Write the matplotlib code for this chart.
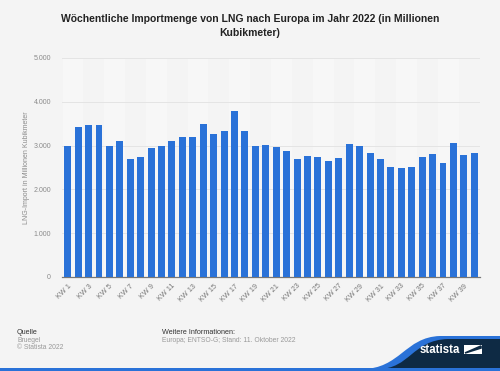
import matplotlib.pyplot as plt
import matplotlib.patches as patches
from matplotlib.path import Path

plt.rcParams['font.family'] = ['Liberation Sans', 'DejaVu Sans']

weeks = [f"KW {i}" for i in range(1, 41)]
values = [2980, 3430, 3460, 3475, 2990, 3110, 2690, 2750, 2935, 3000,
          3100, 3200, 3200, 3500, 3260, 3340, 3795, 3330, 2985, 3015,
          2970, 2885, 2690, 2765, 2735, 2655, 2720, 3045, 2985, 2840,
          2700, 2520, 2490, 2505, 2750, 2810, 2595, 3060, 2795, 2825]
yticks = [0, 1000, 2000, 3000, 4000, 5000]
ytick_labels = ["0", "1.000", "2.000", "3.000", "4.000", "5.000"]

bg = '#f4f4f4'
bar_color = '#2a72d8'
grey_text = '#8a8a8a'
navy = '#0e2a44'

fig = plt.figure(figsize=(5, 3.71), dpi=100, facecolor=bg)
ax = fig.add_axes([0.124, 0.2534, 0.836, 0.5903])
ax.set_facecolor(bg)

x = list(range(len(values)))

# alternating light bands, two bars wide
for start in range(0, len(values), 4):
    ax.axvspan(start - 0.5, start + 1.5, color='#f7f7f7', zorder=0, lw=0)

ax.bar(x, values, width=0.67, color=bar_color, zorder=3)

ax.set_xlim(-0.55, len(values) - 0.45)
ax.set_ylim(0, 5000)
ax.set_yticks(yticks)
ax.set_yticklabels(ytick_labels)
ax.yaxis.grid(True, color='#e4e4e4', lw=0.7, zorder=1)
ax.set_axisbelow(True)

ax.set_xticks(x[::2])
ax.set_xticklabels(weeks[::2], rotation=45, ha='right', va='top',
                   rotation_mode='anchor')
ax.tick_params(axis='x', length=0, pad=4, labelsize=5.2, labelcolor='#777777')
ax.tick_params(axis='y', length=0, pad=8, labelsize=5.0, labelcolor=grey_text)

for s in ['top', 'right', 'left']:
    ax.spines[s].set_visible(False)
ax.spines['bottom'].set_color('#777777')
ax.spines['bottom'].set_linewidth(0.9)

ax.set_ylabel("LNG-Import in Millionen Kubikmeter", fontsize=5.0,
              color=grey_text, labelpad=2)

fig.text(0.5, 0.962, "Wöchentliche Importmenge von LNG nach Europa im Jahr 2022 (in Millionen\nKubikmeter)",
         ha='center', va='top', fontsize=7.5, fontweight='bold', color='#222222',
         linespacing=1.5)

# footer
fig.text(0.034, 0.105, "Quelle", fontsize=5.2, color='#333333', va='center')
fig.text(0.034, 0.083, "Bruegel", fontsize=4.9, color='#999999', va='center')
fig.text(0.034, 0.063, "© Statista 2022", fontsize=4.9, color='#999999', va='center')
fig.text(0.324, 0.105, "Weitere Informationen:", fontsize=5.2, color='#333333', va='center')
fig.text(0.324, 0.083, "Europa; ENTSO-G; Stand: 11. Oktober 2022", fontsize=4.9,
         color='#999999', va='center')

# logo wave
W, H = 500, 371
def fc(px, py):
    return (px / W, 1 - py / H)

codes = [Path.MOVETO, Path.CURVE4, Path.CURVE4, Path.CURVE4,
         Path.LINETO, Path.LINETO, Path.CLOSEPOLY]
verts_blue = [fc(362, 369), fc(400, 369), fc(405, 337), fc(440, 336),
              fc(500, 336), fc(500, 369), fc(362, 369)]
fig.patches.append(patches.PathPatch(Path(verts_blue, codes), transform=fig.transFigure,
                                     facecolor=bar_color, edgecolor='none'))
verts_dark = [fc(378, 369), fc(410, 369), fc(412, 340), fc(448, 339),
              fc(500, 339), fc(500, 369), fc(378, 369)]
fig.patches.append(patches.PathPatch(Path(verts_dark, codes), transform=fig.transFigure,
                                     facecolor=navy, edgecolor='none'))
fig.text(440 / W, 1 - 350 / H, "statista", fontsize=8.3, fontweight='bold', color='white',
         va='center', ha='center')
fig.patches.append(patches.Rectangle(fc(464, 354), 18 / W, 9 / H, transform=fig.transFigure,
                                     facecolor='white', edgecolor='none'))
fig.patches.append(patches.Polygon([fc(465, 353), fc(481, 346), fc(481, 348), fc(465, 353)],
                                   closed=True, transform=fig.transFigure,
                                   facecolor=navy, edgecolor=navy, lw=1.2))

# bottom line
fig.patches.append(patches.Rectangle((0, 0), 1, 3 / H, transform=fig.transFigure,
                                     facecolor=bar_color, edgecolor='none'))

fig.savefig('out.png', dpi=100, facecolor=bg)
